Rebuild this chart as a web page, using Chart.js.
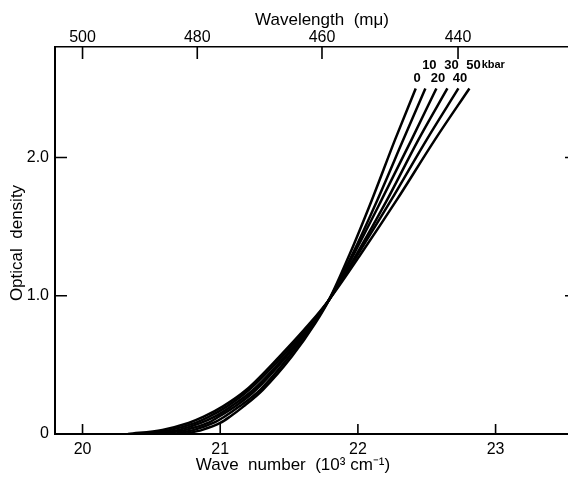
<!DOCTYPE html>
<html>
<head>
<meta charset="utf-8">
<title>Optical density vs wave number</title>
<script src="https://cdn.jsdelivr.net/npm/chart.js@4.4.1/dist/chart.umd.min.js"></script>
<style>
  html, body { margin: 0; padding: 0; background: #fff; }
  canvas { display: block; }
</style>
</head>
<body>
<canvas id="spectra" width="568" height="477"></canvas>
<script>
// optical density at which the wave numbers below were taken
const density = [0, 0.03, 0.08, 0.125, 0.2, 0.32, 0.56, 0.80, 0.97, 1.3, 1.69, 2.13, 2.5];

// wave number (10^3 cm^-1) of each curve, one entry per density level
const kbar0  = [20.74, 20.87, 21.00, 21.07, 21.17, 21.31, 21.52, 21.69, 21.79, 21.94, 22.10, 22.27, 22.42];
const kbar10 = [20.66, 20.81, 20.95, 21.03, 21.14, 21.29, 21.50, 21.68, 21.79, 21.96, 22.14, 22.33, 22.49];
const kbar20 = [20.58, 20.75, 20.91, 20.99, 21.11, 21.26, 21.48, 21.67, 21.79, 21.97, 22.17, 22.39, 22.57];
const kbar30 = [20.49, 20.70, 20.86, 20.96, 21.08, 21.24, 21.47, 21.67, 21.79, 21.99, 22.21, 22.44, 22.65];
const kbar40 = [20.41, 20.64, 20.82, 20.92, 21.05, 21.21, 21.45, 21.66, 21.79, 22.00, 22.24, 22.50, 22.73];
const kbar50 = [20.33, 20.58, 20.77, 20.88, 21.02, 21.19, 21.43, 21.65, 21.79, 22.02, 22.28, 22.56, 22.81];

const pressures = [0, 10, 20, 30, 40, 50];
const curves = [kbar0, kbar10, kbar20, kbar30, kbar40, kbar50];

const waveTicks = [20, 21, 22, 23];
const wavelengthTicks = [500, 480, 460, 440];   // m\u03bc, top axis
const densityTicks = [0, 1, 2];

const FONT = "'Liberation Sans', Arial, sans-serif";

const datasets = curves.map(function (wn, i) {
  return {
    label: pressures[i] + " kbar",
    data: wn.map(function (x, j) { return { x: x, y: density[j] }; }),
    showLine: true,
    borderColor: "#000",
    borderWidth: 2.5,
    pointRadius: 0,
    cubicInterpolationMode: "monotone",
    fill: false,
  };
});

// inward tick marks, axis titles and the pressure labels
const decorations = {
  id: "decorations",
  afterDraw: function (chart) {
    const ctx = chart.ctx;
    const a = chart.chartArea;
    const x = chart.scales.x, x2 = chart.scales.x2, y = chart.scales.y;

    ctx.save();
    ctx.strokeStyle = "#000";
    ctx.lineWidth = 1.6;
    ctx.beginPath();
    x.ticks.forEach(function (t) {
      const px = x.getPixelForValue(t.value);
      ctx.moveTo(px, a.bottom);
      ctx.lineTo(px, a.bottom - 10);
    });
    x2.ticks.forEach(function (t) {
      const px = x2.getPixelForValue(t.value);
      ctx.moveTo(px, a.top);
      ctx.lineTo(px, a.top + 12);
    });
    y.ticks.forEach(function (t) {
      if (t.value === 0) return;
      const py = y.getPixelForValue(t.value);
      ctx.moveTo(a.left, py);
      ctx.lineTo(a.left + 12, py);
      ctx.moveTo(a.right - 3, py);
      ctx.lineTo(a.right, py);
    });
    ctx.stroke();

    ctx.fillStyle = "#000";
    ctx.textAlign = "center";
    ctx.textBaseline = "middle";

    ctx.font = "17px " + FONT;
    ctx.fillText("Wave  number  (10\u00b3 cm\u207b\u00b9)", 293, 465);
    ctx.fillText("Wavelength  (m\u03bc)", 322, 20);

    ctx.save();
    ctx.translate(17, 243);
    ctx.rotate(-Math.PI / 2);
    ctx.fillText("Optical  density", 0, 0);
    ctx.restore();

    // pressure labels above the top end of each curve, staggered in two rows
    curves.forEach(function (wn, i) {
      const last = wn.length - 1;
      const px = x.getPixelForValue(wn[last]);
      const py = y.getPixelForValue(density[last]);
      const upper = i % 2 === 1;
      const lx = px + (upper ? 4 : 1.5);
      const ly = py + (upper ? -23.5 : -10);
      ctx.font = "bold 13px " + FONT;
      ctx.textAlign = "center";
      const txt = String(pressures[i]);
      ctx.fillText(txt, lx, ly);
      if (i === curves.length - 1) {
        const w = ctx.measureText(txt).width;
        ctx.font = "bold 11px " + FONT;
        ctx.textAlign = "left";
        ctx.fillText("kbar", lx + w / 2 + 1, ly + 0.5);
      }
    });
    ctx.restore();
  },
};

const config = {
  type: "scatter",
  data: { datasets: datasets },
  options: {
    responsive: false,
    animation: false,
    layout: { padding: 0 },
    plugins: {
      legend: { display: false },
      tooltip: { enabled: false },
    },
    scales: {
      x: {
        type: "linear",
        position: "bottom",
        min: 19.80,
        max: 23.526,
        afterFit: function (s) { s.height = 43; },
        afterBuildTicks: function (s) {
          s.ticks = waveTicks.map(function (v) { return { value: v }; });
        },
        ticks: {
          color: "#000",
          padding: 6,
          font: { family: FONT, size: 16 },
          callback: function (v) { return String(v); },
        },
        grid: { display: false, drawTicks: false },
        border: { display: true, color: "#000", width: 2 },
      },
      x2: {
        type: "linear",
        position: "top",
        min: 19.80,
        max: 23.526,
        afterFit: function (s) { s.height = 47; },
        afterBuildTicks: function (s) {
          s.ticks = wavelengthTicks.map(function (l) { return { value: 10000 / l }; });
        },
        ticks: {
          color: "#000",
          padding: 0,
          font: { family: FONT, size: 16 },
          callback: function (v) { return String(Math.round(10000 / v)); },
        },
        grid: { display: false, drawTicks: false },
        border: { display: true, color: "#000", width: 1.6 },
      },
      y: {
        type: "linear",
        position: "left",
        min: 0,
        max: 2.8,
        afterFit: function (s) { s.width = 55; },
        afterBuildTicks: function (s) {
          s.ticks = densityTicks.map(function (v) { return { value: v }; });
        },
        ticks: {
          color: "#000",
          padding: 6,
          font: { family: FONT, size: 16 },
          callback: function (v) { return v === 0 ? "0" : v.toFixed(1); },
        },
        grid: { display: false, drawTicks: false },
        border: { display: true, color: "#000", width: 2 },
      },
    },
  },
  plugins: [decorations],
};

var spectra = new Chart(document.getElementById("spectra"), config);
</script>
</body>
</html>
